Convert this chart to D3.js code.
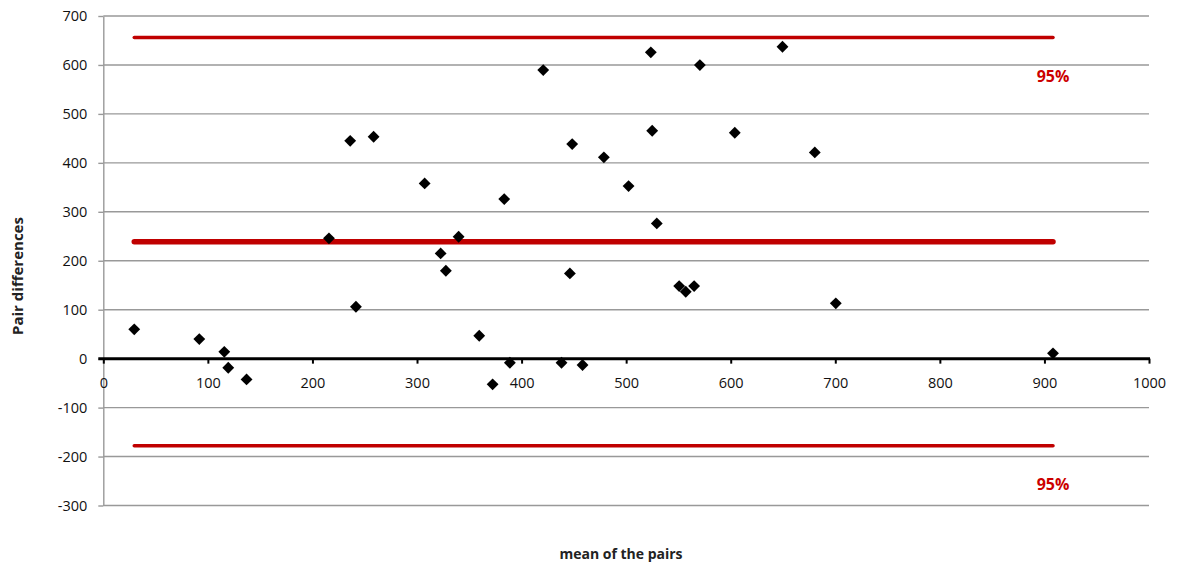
<!DOCTYPE html>
<html><head><meta charset="utf-8">
<script src="https://cdn.jsdelivr.net/npm/d3@7"></script>
<style>
body{margin:0;background:#fff;}
svg{display:block;font-family:"Open Sans",sans-serif;}
</style>
</head><body>
<svg id="chart" width="1178" height="570"></svg>
<script>
// ---- data ----
const meanOfPairs = [29.6, 91.8, 115.7, 119.5, 137, 215.8, 236.1, 241.6, 258.5, 307.3,
  322.6, 327.6, 339.8, 359.5, 372.3, 383.4, 388.8, 420.7, 438.2, 446.2,
  448.4, 458.3, 478.7, 502.3, 523.6, 524.9, 529.3, 550.7, 557, 565,
  570.5, 603.9, 649.5, 680.4, 700.5, 908.2];
const pairDifferences = [59.9, 40, 14, -18.6, -42.4, 245.8, 445, 106, 453.3, 358,
  215, 179.6, 249, 46.8, -52.5, 326, -8.3, 589.6, -8.3, 174.2,
  438.4, -13, 411.2, 352.6, 625.7, 465.6, 276.3, 148.3, 136.7, 148.3,
  599.8, 461.5, 637.2, 421.4, 113, 10.8];
const xTickValues = [0, 100, 200, 300, 400, 500, 600, 700, 800, 900, 1000];
const xTickLabels = ["0", "100", "200", "300", "400", "500", "600", "700", "800", "900", "1000"];
const yTickValues = [-300, -200, -100, 0, 100, 200, 300, 400, 500, 600, 700];
const yTickLabels = ["-300", "-200", "-100", "0", "100", "200", "300", "400", "500", "600", "700"];
const limitValues = [656, 239, -178];      // upper 95%, mean difference, lower 95%
const limitLabels = ["95%", "", "95%"];
const xTitle = "mean of the pairs";
const yTitle = "Pair differences";

// ---- chart ----
const svg = d3.select("#chart");
const x = d3.scaleLinear().domain([0, 1000]).range([103.3, 1149]);
const y = d3.scaleLinear().domain([-300, 700]).range([505.5, 16]);

const gridColor = "#999999";
const red = "#c00000";

// horizontal gridlines
svg.append("g").selectAll("line").data(yTickValues).join("line")
  .attr("x1", x(0)).attr("x2", x(1000))
  .attr("y1", d => y(d)).attr("y2", d => y(d))
  .attr("stroke", gridColor).attr("stroke-width", 1.4);

// y axis
const yAxis = svg.append("g").attr("transform", `translate(${x(0)},0)`)
  .call(d3.axisLeft(y).tickValues(yTickValues).tickSize(5).tickSizeOuter(0).tickPadding(11)
    .tickFormat((d, i) => yTickLabels[i]));
yAxis.select(".domain").attr("stroke", gridColor).attr("stroke-width", 1.4);
yAxis.selectAll(".tick line").attr("stroke", gridColor).attr("stroke-width", 1.4);
yAxis.selectAll(".tick text").attr("font-size", 14.5).attr("fill", "#111")
  .attr("font-family", "'Open Sans',sans-serif");

// x axis at zero
const xAxis = svg.append("g").attr("transform", `translate(0,${y(0)})`)
  .call(d3.axisBottom(x).tickValues(xTickValues).tickSize(5).tickSizeOuter(0).tickPadding(14)
    .tickFormat((d, i) => xTickLabels[i]));
xAxis.select(".domain").remove();
xAxis.append("line").attr("x1", x(0) - 5).attr("x2", x(1000) + 1)
  .attr("y1", 0).attr("y2", 0).attr("stroke", "#000").attr("stroke-width", 3);
xAxis.selectAll(".tick line").attr("stroke", "#000").attr("stroke-width", 2);
xAxis.selectAll(".tick text").attr("font-size", 14.5).attr("fill", "#111")
  .attr("font-family", "'Open Sans',sans-serif");

// limit lines
const [xmin, xmax] = d3.extent(meanOfPairs);
const limitWidths = [3.5, 5.5, 3.5];
svg.append("g").selectAll("line").data(limitValues).join("line")
  .attr("x1", x(xmin)).attr("x2", x(xmax))
  .attr("y1", d => y(d)).attr("y2", d => y(d))
  .attr("stroke", red).attr("stroke-width", (d, i) => limitWidths[i])
  .attr("stroke-linecap", "round");

svg.append("g").selectAll("text").data(limitValues).join("text")
  .attr("x", x(xmax)).attr("y", d => y(d) + 44)
  .attr("text-anchor", "middle").attr("font-size", 16).attr("font-weight", "bold")
  .attr("fill", "#cc0000")
  .text((d, i) => limitLabels[i]);

// points
const diamond = d3.symbol(d3.symbolSquare, 70);
svg.append("g").selectAll("path").data(meanOfPairs).join("path")
  .attr("d", diamond)
  .attr("transform", (d, i) => `translate(${x(d)},${y(pairDifferences[i])}) rotate(45)`)
  .attr("fill", "#000");

// titles
svg.append("text").attr("x", 621).attr("y", 559).attr("text-anchor", "middle")
  .attr("font-size", 14).attr("font-weight", "bold").attr("fill", "#222").text(xTitle);
svg.append("text").attr("transform", "translate(23,276) rotate(-90)").attr("text-anchor", "middle")
  .attr("font-size", 15).attr("font-weight", "bold").attr("fill", "#222").text(yTitle);
</script>
</body></html>
